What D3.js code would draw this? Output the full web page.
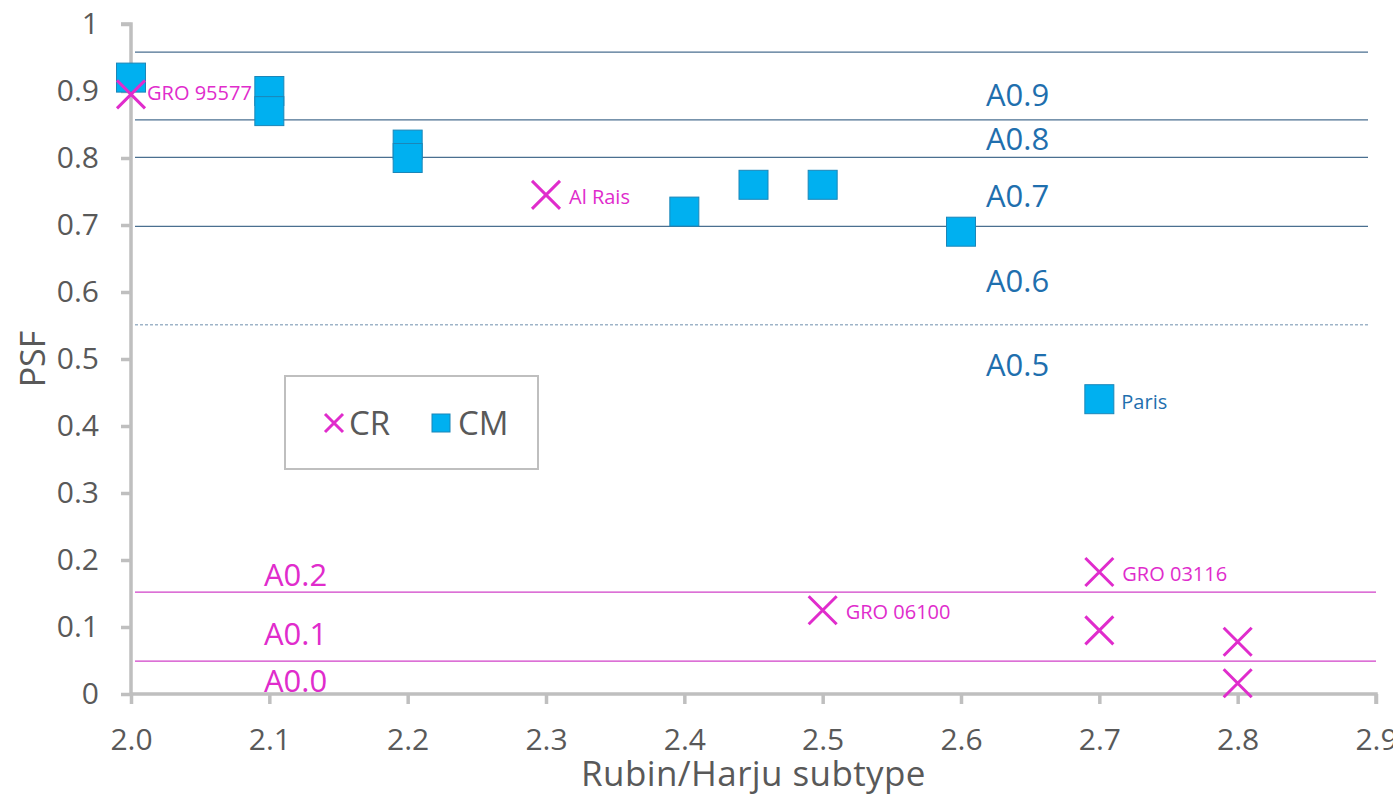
<!DOCTYPE html>
<html><head><meta charset="utf-8">
<script src="https://cdn.jsdelivr.net/npm/d3@7"></script>
<style>body{margin:0;background:#fff}text{font-family:"Open Sans",sans-serif}</style>
</head><body><svg id="c" width="1393" height="798"></svg>
<script>
const cmX = [2.0, 2.1, 2.1, 2.2, 2.2, 2.4, 2.45, 2.5, 2.6, 2.7];
const cmY = [0.92, 0.90, 0.87, 0.82, 0.80, 0.72, 0.76, 0.76, 0.69, 0.44];
const cmLabel = ["", "", "", "", "", "", "", "", "", "Paris"];
const crX = [2.0, 2.3, 2.5, 2.7, 2.7, 2.8, 2.8];
const crY = [0.895, 0.745, 0.125, 0.182, 0.095, 0.078, 0.016];
const crLabel = ["GRO 95577", "Al Rais", "GRO 06100", "GRO 03116", "", "", ""];
const blueLines = [0.958, 0.857, 0.801, 0.698];
const dashedLines = [0.551];
const magentaLines = [0.152, 0.049];
const blueZones = ["A0.9", "A0.8", "A0.7", "A0.6", "A0.5"];
const blueZoneY = [0.895, 0.828, 0.743, 0.617, 0.492];
const magZones = ["A0.2", "A0.1", "A0.0"];
const magZoneY = [0.178, 0.09, 0.02];
const xTicks = [2.0, 2.1, 2.2, 2.3, 2.4, 2.5, 2.6, 2.7, 2.8, 2.9];
const yTicks = [0, 0.1, 0.2, 0.3, 0.4, 0.5, 0.6, 0.7, 0.8, 0.9, 1];

const svg = d3.select("#c");
const x = d3.scaleLinear().domain([2.0, 2.9]).range([131, 1376]);
const y = d3.scaleLinear().domain([0, 1]).range([694, 24]);
const BLUE = "#1f6fae", MAG = "#e02ccc", CMFILL = "#00b0f0", AX = "#bfbfbf", TXT = "#595959";

// reference lines
svg.selectAll(".bl").data(blueLines).join("line")
  .attr("x1", x(2.0) + 4).attr("x2", 1368).attr("y1", d => y(d)).attr("y2", d => y(d))
  .attr("stroke", "#4a6f90").attr("stroke-width", 1.2);
svg.selectAll(".dl").data(dashedLines).join("line")
  .attr("x1", x(2.0) + 4).attr("x2", 1368).attr("y1", d => y(d)).attr("y2", d => y(d))
  .attr("stroke", "#6f8fad").attr("stroke-width", 1).attr("stroke-dasharray", "3,2");
svg.selectAll(".ml").data(magentaLines).join("line")
  .attr("x1", x(2.0) + 4).attr("x2", 1376).attr("y1", d => y(d)).attr("y2", d => y(d))
  .attr("stroke", "#d040c8").attr("stroke-width", 1.2);

// zone labels
svg.selectAll(".bz").data(blueZones).join("text")
  .attr("x", 986).attr("y", (d, i) => y(blueZoneY[i])).attr("dy", "0.36em")
  .attr("fill", BLUE).attr("font-size", 31).text(d => d);
svg.selectAll(".mz").data(magZones).join("text")
  .attr("x", 264).attr("y", (d, i) => y(magZoneY[i])).attr("dy", "0.36em")
  .attr("fill", MAG).attr("font-size", 31).text(d => d);

// axes
const yAxis = svg.append("g").attr("transform", `translate(${x(2.0)},0)`)
  .call(d3.axisLeft(y).tickValues(yTicks).tickSize(10).tickPadding(22).tickFormat(d => d === 0 || d === 1 ? d3.format("d")(d) : d3.format(".1f")(d)));
const xAxis = svg.append("g").attr("transform", `translate(0,${y(0)})`)
  .call(d3.axisBottom(x).tickValues(xTicks).tickSize(10).tickPadding(25).tickFormat(d3.format(".1f")));
[yAxis, xAxis].forEach(g => {
  g.select(".domain").attr("stroke", AX).attr("stroke-width", 3.5);
  g.selectAll(".tick line").attr("stroke", AX).attr("stroke-width", 3.5);
  g.selectAll(".tick text").attr("fill", TXT).attr("font-size", 30).style("font-family", "Open Sans");
});
yAxis.select(".domain").attr("d", `M-10,${y(1)}H0V${y(0)}`);
xAxis.select(".domain").attr("d", `M${x(2.0)},0H${x(2.9)}V10`);

// axis titles
svg.append("text").attr("x", x(2.45)).attr("y", 786).attr("text-anchor", "middle")
  .attr("fill", TXT).attr("font-size", 35).attr("letter-spacing", 0.4).text("Rubin/Harju subtype");
svg.append("text").attr("transform", `translate(45,${y(0.5)}) rotate(-90)`).attr("text-anchor", "middle")
  .attr("fill", TXT).attr("font-size", 34).text("PSF");

// CM squares
const S = 29;
const cm = cmX.map((d, i) => ({x: d, y: cmY[i], label: cmLabel[i]}));
svg.selectAll(".cm").data(cm).join("rect")
  .attr("x", d => x(d.x) - S / 2).attr("y", d => y(d.y) - S / 2).attr("width", S).attr("height", S)
  .attr("fill", CMFILL).attr("stroke", "#1b86b8").attr("stroke-width", 1);
svg.selectAll(".cml").data(cm.filter(d => d.label)).join("text")
  .attr("x", d => x(d.x) + 22).attr("y", d => y(d.y) + 3).attr("dy", "0.36em")
  .attr("fill", BLUE).attr("font-size", 20).text(d => d.label);

// CR crosses
const H = 14;
const cr = crX.map((d, i) => ({x: d, y: crY[i], label: crLabel[i]}));
const crg = svg.selectAll(".cr").data(cr).join("g")
  .attr("transform", d => `translate(${x(d.x)},${y(d.y)})`);
crg.append("path").attr("d", `M${-H},${-H}L${H},${H}M${-H},${H}L${H},${-H}`)
  .attr("stroke", MAG).attr("stroke-width", 3).attr("fill", "none");
svg.selectAll(".crl").data(cr.filter(d => d.label)).join("text")
  .attr("x", d => x(d.x) + (d.x === 2.0 ? 16 : 23)).attr("y", d => y(d.y) + (d.x === 2.0 ? -2 : 2)).attr("dy", "0.36em")
  .attr("fill", MAG).attr("font-size", 20).text(d => d.label);

// legend
const lg = svg.append("g");
lg.append("rect").attr("x", 285).attr("y", 376).attr("width", 253).attr("height", 93)
  .attr("fill", "#fff").attr("stroke", AX).attr("stroke-width", 2);
lg.append("path").attr("d", "M325,414L343,432M325,432L343,414").attr("stroke", MAG).attr("stroke-width", 3);
lg.append("text").attr("x", 349).attr("y", 423).attr("dy", "0.36em").attr("fill", TXT).attr("font-size", 33).text("CR");
lg.append("rect").attr("x", 432).attr("y", 414).attr("width", 18).attr("height", 18).attr("fill", CMFILL).attr("stroke", "#1b86b8");
lg.append("text").attr("x", 458).attr("y", 423).attr("dy", "0.36em").attr("fill", TXT).attr("font-size", 33).text("CM");
</script></body></html>
